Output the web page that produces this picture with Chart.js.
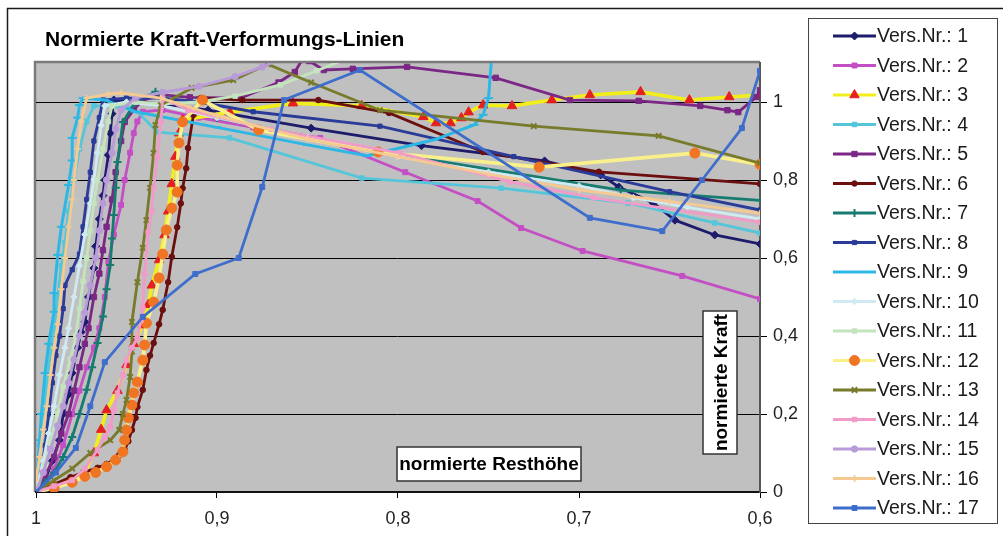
<!DOCTYPE html>
<html><head><meta charset="utf-8">
<script src="https://cdn.jsdelivr.net/npm/chart.js@4.4.1/dist/chart.umd.min.js"></script>
<style>html,body{margin:0;padding:0;background:#fff}canvas{display:block}</style>
</head><body>
<canvas id="c" width="1003" height="536"></canvas>
<script>
// ---------- DATA (x = normierte Resthöhe, y = normierte Kraft) ----------
const vers1 = [[1,0],[0.995,0.03],[0.991,0.08],[0.987,0.133],[0.985,0.2],[0.982,0.25],[0.98,0.305],[0.977,0.37],[0.975,0.41],[0.973,0.436],[0.971,0.5],[0.968,0.574],[0.967,0.63],[0.965,0.7],[0.963,0.76],[0.962,0.8],[0.96,0.864],[0.959,0.92],[0.958,0.97],[0.957,1.005],[0.945,1.0],[0.93,0.995],[0.905,0.979],[0.848,0.933],[0.787,0.888],[0.719,0.849],[0.688,0.813],[0.678,0.782],[0.659,0.741],[0.647,0.697],[0.625,0.659],[0.6,0.636]];
const vers2 = [[1,0],[0.995,0.02],[0.99,0.06],[0.985,0.12],[0.98,0.2],[0.976,0.26],[0.972,0.32],[0.968,0.37],[0.965,0.42],[0.962,0.5],[0.96,0.59],[0.957,0.66],[0.953,0.736],[0.951,0.8],[0.948,0.87],[0.946,0.92],[0.944,0.95],[0.941,0.975],[0.93,0.98],[0.91,0.96],[0.88,0.935],[0.843,0.908],[0.796,0.82],[0.756,0.746],[0.732,0.677],[0.698,0.618],[0.643,0.554],[0.6,0.495]];
const vers3 = [[1,0],[0.99,0.015],[0.98,0.03],[0.973,0.05],[0.968,0.1],[0.964,0.16],[0.961,0.21],[0.955,0.26],[0.95,0.326],[0.946,0.38],[0.941,0.428],[0.938,0.48],[0.936,0.53],[0.932,0.595],[0.929,0.659],[0.927,0.72],[0.925,0.79],[0.923,0.86],[0.921,0.92],[0.919,0.954],[0.893,0.974],[0.858,0.997],[0.82,0.99],[0.786,0.962],[0.779,0.946],[0.771,0.946],[0.765,0.959],[0.761,0.974],[0.753,0.992],[0.737,0.99],[0.715,1.005],[0.694,1.018],[0.666,1.026],[0.639,1.005],[0.617,1.013],[0.6,1.018]];
const vers4 = [[1,0],[0.999,0.05],[0.998,0.12],[0.996,0.2],[0.994,0.28],[0.992,0.36],[0.99,0.42],[0.988,0.5],[0.986,0.58],[0.984,0.64],[0.982,0.72],[0.979,0.8],[0.976,0.88],[0.972,0.95],[0.968,0.99],[0.955,0.99],[0.946,0.985],[0.933,0.923],[0.893,0.908],[0.82,0.805],[0.743,0.779],[0.673,0.741],[0.625,0.69],[0.6,0.664]];
const vers5 = [[1,0],[0.995,0.04],[0.99,0.09],[0.986,0.15],[0.982,0.2],[0.979,0.26],[0.976,0.32],[0.973,0.38],[0.971,0.42],[0.968,0.5],[0.965,0.56],[0.963,0.62],[0.961,0.68],[0.958,0.75],[0.956,0.82],[0.953,0.9],[0.951,0.949],[0.946,0.98],[0.941,1.005],[0.93,1.018],[0.915,1.012],[0.887,1.01],[0.866,1.05],[0.857,1.077],[0.853,1.108],[0.849,1.105],[0.841,1.082],[0.825,1.085],[0.795,1.09],[0.746,1.062],[0.705,1.005],[0.667,1.003],[0.633,0.99],[0.618,0.979],[0.612,0.974],[0.602,1.013],[0.6,1.03]];
const vers6 = [[1,0],[0.99,0.02],[0.981,0.038],[0.974,0.05],[0.966,0.062],[0.961,0.072],[0.957,0.082],[0.954,0.095],[0.951,0.108],[0.949,0.13],[0.947,0.159],[0.945,0.19],[0.944,0.218],[0.941,0.262],[0.939,0.313],[0.937,0.35],[0.935,0.382],[0.932,0.43],[0.93,0.467],[0.927,0.538],[0.925,0.603],[0.922,0.679],[0.92,0.74],[0.919,0.779],[0.917,0.83],[0.916,0.882],[0.913,0.967],[0.909,1.01],[0.886,1.005],[0.844,1.005],[0.805,0.972],[0.753,0.872],[0.689,0.821],[0.6,0.79]];
const vers7 = [[1,0],[0.995,0.025],[0.99,0.05],[0.985,0.09],[0.98,0.141],[0.976,0.2],[0.972,0.262],[0.969,0.32],[0.966,0.382],[0.963,0.45],[0.961,0.52],[0.959,0.582],[0.958,0.65],[0.957,0.71],[0.956,0.78],[0.955,0.846],[0.952,0.949],[0.945,1.0],[0.934,1.026],[0.92,0.99],[0.9,0.959],[0.81,0.872],[0.677,0.774],[0.6,0.748]];
const vers8 = [[1,0],[0.997,0.05],[0.995,0.12],[0.993,0.2],[0.991,0.28],[0.989,0.35],[0.987,0.4],[0.985,0.47],[0.984,0.53],[0.98,0.57],[0.976,0.61],[0.974,0.68],[0.972,0.75],[0.97,0.82],[0.968,0.9],[0.965,0.96],[0.963,1.005],[0.95,1.01],[0.93,1.01],[0.91,1.0],[0.88,0.975],[0.81,0.938],[0.736,0.86],[0.65,0.77],[0.6,0.723]];
const vers9 = [[1,0.02],[0.999,0.07],[0.998,0.133],[0.997,0.2],[0.995,0.305],[0.993,0.38],[0.99,0.462],[0.99,0.51],[0.988,0.608],[0.986,0.68],[0.982,0.787],[0.98,0.85],[0.98,0.908],[0.977,0.96],[0.976,0.992],[0.974,1.01],[0.962,1.005],[0.945,0.975],[0.9,0.935],[0.85,0.89],[0.817,0.862],[0.78,0.903],[0.758,0.941],[0.753,0.967],[0.75,1.01],[0.748,1.13]];
const vers10 = [[1,0],[0.996,0.08],[0.993,0.15],[0.99,0.22],[0.987,0.3],[0.984,0.37],[0.982,0.42],[0.979,0.5],[0.976,0.58],[0.973,0.66],[0.97,0.74],[0.968,0.8],[0.966,0.87],[0.964,0.94],[0.962,0.99],[0.95,1.0],[0.93,0.99],[0.9,0.96],[0.85,0.91],[0.8,0.86],[0.75,0.82],[0.7,0.785],[0.67,0.755],[0.64,0.73],[0.6,0.7]];
const vers11 = [[1,0],[0.995,0.07],[0.992,0.13],[0.988,0.2],[0.985,0.27],[0.981,0.34],[0.978,0.4],[0.976,0.47],[0.974,0.54],[0.972,0.6],[0.97,0.67],[0.968,0.74],[0.966,0.8],[0.963,0.88],[0.96,0.95],[0.958,0.99],[0.945,1.0],[0.93,0.995],[0.91,1.0],[0.89,1.015],[0.865,1.044],[0.845,1.08],[0.826,1.115]];
const vers12 = [[1,0],[0.99,0.01],[0.98,0.025],[0.973,0.04],[0.967,0.05],[0.961,0.065],[0.956,0.082],[0.952,0.103],[0.951,0.133],[0.95,0.159],[0.949,0.19],[0.947,0.223],[0.946,0.254],[0.944,0.282],[0.941,0.338],[0.94,0.377],[0.939,0.433],[0.935,0.487],[0.932,0.549],[0.93,0.61],[0.928,0.672],[0.925,0.728],[0.922,0.769],[0.922,0.838],[0.921,0.895],[0.919,0.949],[0.908,1.005],[0.877,0.928],[0.811,0.872],[0.722,0.833],[0.636,0.869],[0.6,0.84]];
const vers13 = [[1,0],[0.99,0.03],[0.98,0.06],[0.97,0.1],[0.959,0.133],[0.954,0.159],[0.952,0.2],[0.95,0.236],[0.948,0.295],[0.947,0.36],[0.947,0.436],[0.944,0.538],[0.941,0.626],[0.939,0.697],[0.937,0.78],[0.935,0.869],[0.934,0.941],[0.931,0.992],[0.914,1.036],[0.891,1.056],[0.872,1.097],[0.848,1.05],[0.81,0.979],[0.725,0.938],[0.656,0.913],[0.6,0.843]];
const vers14 = [[1,0],[0.99,0.015],[0.98,0.03],[0.973,0.06],[0.966,0.108],[0.962,0.14],[0.959,0.167],[0.957,0.21],[0.955,0.254],[0.952,0.3],[0.95,0.338],[0.947,0.37],[0.944,0.395],[0.942,0.44],[0.941,0.472],[0.94,0.56],[0.938,0.666],[0.936,0.72],[0.935,0.779],[0.933,0.86],[0.931,0.949],[0.93,1.01],[0.916,0.979],[0.87,0.93],[0.799,0.869],[0.738,0.795],[0.692,0.754],[0.6,0.692]];
const vers15 = [[1,0],[0.996,0.05],[0.992,0.11],[0.988,0.17],[0.985,0.22],[0.982,0.28],[0.979,0.34],[0.976,0.4],[0.973,0.46],[0.97,0.53],[0.967,0.6],[0.965,0.67],[0.963,0.74],[0.961,0.8],[0.958,0.87],[0.956,0.93],[0.953,0.98],[0.945,1.01],[0.93,1.025],[0.91,1.04],[0.89,1.065],[0.875,1.09],[0.863,1.113],[0.85,1.14]];
const vers16 = [[1,0.03],[0.998,0.09],[0.996,0.16],[0.994,0.22],[0.992,0.3],[0.99,0.37],[0.988,0.43],[0.986,0.52],[0.984,0.6],[0.982,0.68],[0.98,0.75],[0.979,0.8],[0.977,0.88],[0.975,0.95],[0.972,1.01],[0.96,1.02],[0.953,1.023],[0.931,1.01],[0.9,0.965],[0.85,0.905],[0.8,0.86],[0.75,0.815],[0.7,0.775],[0.65,0.745],[0.6,0.715]];
const vers17 = [[1,0],[0.989,0.05],[0.978,0.113],[0.97,0.22],[0.962,0.333],[0.941,0.449],[0.912,0.559],[0.888,0.6],[0.875,0.782],[0.863,1.005],[0.821,1.082],[0.694,0.703],[0.654,0.669],[0.632,0.8],[0.61,0.933],[0.6,1.08]];

const seriesData = [vers1,vers2,vers3,vers4,vers5,vers6,vers7,vers8,vers9,vers10,vers11,vers12,vers13,vers14,vers15,vers16,vers17];
const seriesNames = ['Vers.Nr.: 1','Vers.Nr.: 2','Vers.Nr.: 3','Vers.Nr.: 4','Vers.Nr.: 5','Vers.Nr.: 6','Vers.Nr.: 7','Vers.Nr.: 8','Vers.Nr.: 9','Vers.Nr.: 10','Vers.Nr.: 11','Vers.Nr.: 12','Vers.Nr.: 13','Vers.Nr.: 14','Vers.Nr.: 15','Vers.Nr.: 16','Vers.Nr.: 17'];
const xTickValues = [1, 0.9, 0.8, 0.7, 0.6];
const xTickLabels = ['1', '0,9', '0,8', '0,7', '0,6'];
const yTickValues = [0, 0.2, 0.4, 0.6, 0.8, 1];
const yTickLabels = ['0', '0,2', '0,4', '0,6', '0,8', '1'];
const chartTitle = 'Normierte Kraft-Verformungs-Linien';
const xTitle = 'normierte Resthöhe';
const yTitle = 'normierte Kraft';

// ---------- STYLES ----------
const lineColors = ['#1C1C6B','#C44FC4','#F2EE1C','#55C6DA','#7A2786','#6B0F0F','#167C70','#2A3B98','#2DB7E4','#CFEAF0','#C4E4BE','#F9F08C','#787A2C','#F09BC8','#B99BD8','#F5C992','#3E6DCB'];
const markerColors = ['#1C1C6B','#C44FC4','#E52020','#55C6DA','#7A2786','#6B0F0F','#167C70','#2A3B98','#2DB7E4','#CFEAF0','#C4E4BE','#F07522','#787A2C','#F09BC8','#B99BD8','#F5C992','#3E6DCB'];
const markerStyles = ['rectRot','rect','triangle','rect','rect','circle','cross','rect','line','rectRot','rect','circle','crossRot','rect','circle','cross','rect'];
const markerRadius = [4,3.5,5.5,3.2,3.8,2.8,4,3,4.5,3.2,3.2,5,3.8,3.2,3.2,3.2,3.5];
const lineWidths = [2.8,2.8,3.6,2.8,2.8,2.8,2.8,2.8,3,2.8,2.8,3.6,2.8,2.8,2.8,2.8,2.8];

const FONT = "'Liberation Sans', Arial, sans-serif";

const datasets = seriesData.map((s, i) => ({
  label: seriesNames[i],
  data: s.map(p => ({x: p[0], y: p[1]})),
  showLine: true,
  borderColor: lineColors[i],
  borderWidth: lineWidths[i],
  pointStyle: markerStyles[i],
  pointRadius: markerRadius[i],
  pointBackgroundColor: markerColors[i],
  pointBorderColor: markerColors[i],
  pointBorderWidth: markerStyles[i].indexOf('cross') === 0 || markerStyles[i] === 'line' ? 2 : 1,
  tension: 0,
  order: seriesData.length - i
}));

const decor = {
  id: 'decor',
  beforeDraw(chart) {
    const {ctx, chartArea: a} = chart;
    ctx.save();
    ctx.fillStyle = '#fff';
    ctx.fillRect(0, 0, chart.width, chart.height);
    ctx.strokeStyle = '#1a1a1a';
    ctx.lineWidth = 1.5;
    ctx.beginPath();
    ctx.moveTo(7.5, chart.height);
    ctx.lineTo(7.5, 8.5);
    ctx.lineTo(chart.width, 8.5);
    ctx.stroke();
    ctx.fillStyle = '#c0c0c0';
    ctx.fillRect(a.left, a.top, a.right - a.left, a.bottom - a.top);
    ctx.strokeStyle = '#7a7a7a';
    ctx.lineWidth = 2.5;
    ctx.beginPath();
    ctx.moveTo(a.left - 1, a.bottom);
    ctx.lineTo(a.left - 1, a.top - 1);
    ctx.lineTo(a.right, a.top - 1);
    ctx.stroke();
    // title
    ctx.fillStyle = '#000';
    ctx.font = 'bold 21px ' + FONT;
    ctx.textBaseline = 'alphabetic';
    ctx.textAlign = 'left';
    ctx.fillText(chartTitle, 45, 46);
    ctx.restore();
  },
  afterDraw(chart) {
    const {ctx} = chart;
    ctx.save();
    // axis title boxes
    ctx.fillStyle = '#fff';
    ctx.strokeStyle = '#333';
    ctx.lineWidth = 1.5;
    ctx.fillRect(397, 447, 184, 34);
    ctx.strokeRect(397, 447, 184, 34);
    ctx.fillRect(703, 311, 34, 143);
    ctx.strokeRect(703, 311, 34, 143);
    ctx.fillStyle = '#000';
    ctx.font = 'bold 19px ' + FONT;
    ctx.textAlign = 'center';
    ctx.textBaseline = 'middle';
    ctx.fillText(xTitle, 489, 465);
    ctx.translate(721, 382.5);
    ctx.rotate(-Math.PI / 2);
    ctx.fillText(yTitle, 0, 1);
    ctx.restore();

    // legend
    ctx.save();
    ctx.fillStyle = '#fff';
    ctx.strokeStyle = '#444';
    ctx.lineWidth = 1;
    ctx.fillRect(808.5, 18.5, 189, 505);
    ctx.strokeRect(808.5, 18.5, 189, 505);
    chart.data.datasets.forEach((ds, i) => {
      const y = 36 + i * 29.5;
      ctx.strokeStyle = ds.borderColor;
      ctx.lineWidth = 2.8;
      ctx.beginPath();
      ctx.moveTo(833, y);
      ctx.lineTo(876, y);
      ctx.stroke();
      ctx.fillStyle = ds.pointBackgroundColor;
      ctx.strokeStyle = ds.pointBorderColor;
      ctx.lineWidth = ds.pointBorderWidth;
      Chart.helpers.drawPoint(ctx, {pointStyle: ds.pointStyle, radius: ds.pointRadius, rotation: 0, borderWidth: ds.pointBorderWidth}, 854.5, y);
      ctx.fillStyle = '#1a1a1a';
      ctx.font = '19.5px ' + FONT;
      ctx.textAlign = 'left';
      ctx.textBaseline = 'middle';
      ctx.fillText(ds.label, 877, y + 1);
    });
    ctx.restore();
  }
};

new Chart(document.getElementById('c'), {
  type: 'scatter',
  data: {datasets},
  options: {
    responsive: false,
    devicePixelRatio: 1,
    animation: false,
    layout: {padding: {left: 36, top: 63, right: 195, bottom: 0}},
    plugins: {legend: {display: false}, title: {display: false}, tooltip: {enabled: false}},
    scales: {
      x: {
        type: 'linear',
        position: 'bottom',
        reverse: true,
        min: 0.6,
        max: 1,
        afterBuildTicks: s => { s.ticks = xTickValues.map(v => ({value: v})); },
        afterFit: s => { s.height = 44; },
        grid: {display: true, drawOnChartArea: false, drawTicks: true, tickLength: 6, color: '#000', lineWidth: 1},
        border: {display: true, color: '#111', width: 2},
        ticks: {
          padding: 10,
          color: '#222',
          font: {family: FONT, size: 18},
          maxRotation: 0,
          autoSkip: false,
          callback: v => xTickLabels[xTickValues.findIndex(t => Math.abs(t - v) < 1e-9)]
        }
      },
      y: {
        type: 'linear',
        position: 'right',
        min: 0,
        max: 1.1,
        afterBuildTicks: s => { s.ticks = yTickValues.map(v => ({value: v})); },
        afterFit: s => { s.width = 48; },
        grid: {display: true, drawOnChartArea: true, drawTicks: true, tickLength: 7, color: '#000', lineWidth: 1},
        border: {display: true, color: '#555', width: 2},
        ticks: {
          padding: 6,
          color: '#222',
          font: {family: FONT, size: 18},
          autoSkip: false,
          callback: v => yTickLabels[yTickValues.findIndex(t => Math.abs(t - v) < 1e-9)]
        }
      }
    }
  },
  plugins: [decor]
});
</script>
</body></html>
